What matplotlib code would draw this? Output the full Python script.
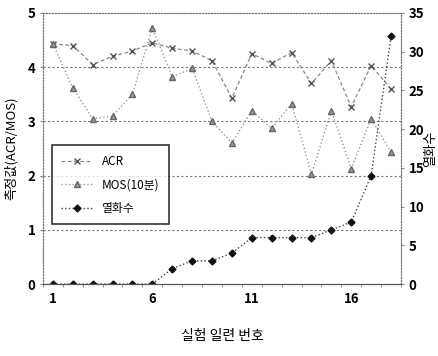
import matplotlib
matplotlib.use("Agg")
import matplotlib.pyplot as plt
import numpy as np

plt.rcParams['font.family'] = ['Noto Sans CJK KR', 'DejaVu Sans']

runs = list(range(1, 19))
acr = [4.43, 4.4, 4.05, 4.2, 4.3, 4.45, 4.35, 4.3, 4.12, 3.43, 4.25, 4.07,
       4.27, 3.7, 4.12, 3.27, 4.03, 3.6]
mos = [4.43, 3.62, 3.05, 3.1, 3.5, 4.73, 3.82, 3.98, 3.0, 2.6, 3.2, 2.87,
       3.33, 2.03, 3.2, 2.13, 3.05, 2.43]
degrade = [0, 0, 0, 0, 0, 0, 2, 3, 3, 4, 6, 6, 6, 6, 7, 8, 14, 32]

fig = plt.figure(figsize=(4.38, 3.56), dpi=100)
ax = fig.add_axes([0.098, 0.202, 0.8175, 0.7615])
ax2 = ax.twinx()

l1, = ax.plot(runs, acr, linestyle=(0, (3, 2)), color='#888888', lw=0.9,
              marker='x', markersize=5, markeredgecolor='#555555', label='ACR')
l2, = ax.plot(runs, mos, linestyle=':', color='#999999', lw=1.0,
              marker='^', markersize=5, markerfacecolor='#999999',
              markeredgecolor='#666666', label='MOS(10분)')
l3, = ax2.plot(runs, degrade, linestyle=':', color='#444444', lw=1.0,
               marker='D', markersize=3.5, markerfacecolor='#111111',
               markeredgecolor='#111111', label='열화수')

ax.set_xlim(0.5, 18.5)
ax.set_ylim(0, 5)
ax2.set_ylim(0, 35)
ax.set_xticks([1, 6, 11, 16])
ax.set_xticks(np.arange(0.5, 18.6, 1), minor=True)
ax.set_yticks([0, 1, 2, 3, 4, 5])
ax2.set_yticks(range(0, 36, 5))

for y in [1, 2, 3, 4]:
    ax.axhline(y, color='#777777', lw=0.8, linestyle=(0, (2, 2)), zorder=0)

for side in ['left', 'right', 'top']:
    ax.spines[side].set_linestyle(':')
    ax.spines[side].set_color('#777777')
    ax2.spines[side].set_linestyle(':')
    ax2.spines[side].set_color('#777777')
ax.spines['bottom'].set_color('#555555')
ax2.spines['bottom'].set_color('#555555')

ax.tick_params(axis='both', which='both', length=2, color='#888888',
               labelsize=9.5)
ax.tick_params(axis='x', which='major', length=0, pad=6)
ax2.tick_params(axis='y', length=2, color='#888888', labelsize=9.5)
for lab in ax.get_xticklabels() + ax.get_yticklabels() + ax2.get_yticklabels():
    lab.set_fontweight('bold')

ax.set_xlabel('실험 일련 번호', fontsize=10, labelpad=16)
ax.set_ylabel('측정값(ACR/MOS)', fontsize=9.5)
ax.yaxis.set_label_coords(-0.07, 0.5)
ax2.set_ylabel('열화수', fontsize=9.5)
ax2.yaxis.set_label_coords(1.065, 0.5)

leg = ax.legend(handles=[l1, l2, l3], loc='lower left',
                bbox_to_anchor=(0.025, 0.22), borderaxespad=0, fontsize=8.5,
                frameon=True, fancybox=False, edgecolor='black',
                handlelength=2.6, borderpad=0.8, labelspacing=0.9)
leg.get_frame().set_linewidth(1.2)

fig.savefig('out.png', dpi=100)
